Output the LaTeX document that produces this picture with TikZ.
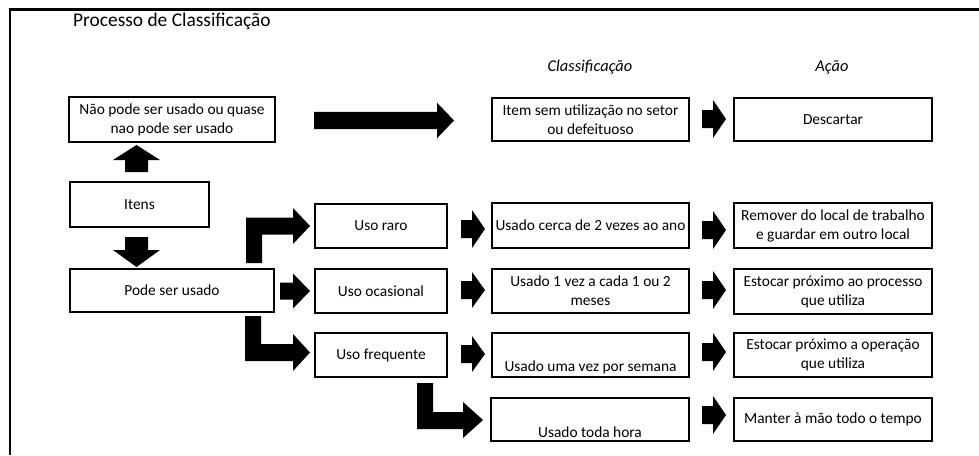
\documentclass[tikz,border=0pt]{standalone}
\usepackage{fontspec}
\setmainfont{Carlito}
\newcommand\bodyf{\fontsize{15.4pt}{19pt}\selectfont}
\newcommand\rarr[6]{% x0, xh, xt, yc, shaft half, head half
  \fill[black] (#1,{#4-#5}) -- (#2,{#4-#5}) -- (#2,{#4-#6}) -- (#3,#4) -- (#2,{#4+#6}) -- (#2,{#4+#5}) -- (#1,{#4+#5}) -- cycle;}
\begin{document}
\begin{tikzpicture}[x=1pt,y=-1pt,
  box/.style={draw=black, line width=1.8pt, fill=white, inner sep=0pt, align=center, font=\bodyf, text=black},
  lbl/.style={inner sep=0pt, font=\bodyf, text=black, align=center}]
\useasboundingbox (0,0) rectangle (979,455);
\fill[white] (0,0) rectangle (979,455);
% frame
\draw[line width=2.2pt] (10,455) -- (10,9.5) -- (979,9.5);
% title and headers
\node[lbl, anchor=west, font=\fontsize{19.4pt}{22pt}\selectfont] (title) at (73,21) {Processo de Classificação};
\node[lbl, font=\fontsize{16.4pt}{19pt}\selectfont\itshape] (hclass) at (590,67) {Classificação};
\node[lbl, font=\fontsize{16.4pt}{19pt}\selectfont\itshape] (hacao) at (832,67) {Ação};
% left column
\node[box, minimum width=206pt, minimum height=45pt] (nao) at (172,119.5) {Não pode ser usado ou quase\\nao pode ser usado};
\node[box, minimum width=139pt, minimum height=45pt] (itens) at (139.5,204.5) {Itens};
\node[box, minimum width=204pt, minimum height=43pt] (pode) at (172,290.5) {Pode ser usado};
% second column
\node[box, minimum width=132pt, minimum height=44pt] (raro) at (381,226) {Uso raro};
\node[box, minimum width=132pt, minimum height=44pt] (ocas) at (381,291) {Uso ocasional};
\node[box, minimum width=132pt, minimum height=44pt] (freq) at (381,355) {Uso frequente};
% classification column
\node[box, minimum width=197pt, minimum height=43pt] (semuso) at (590.5,119.5) {Item sem utilização no setor\\ou defeituoso};
\node[box, minimum width=197pt, minimum height=45pt] (cerca) at (590.5,225.5) {Usado cerca de 2 vezes ao ano};
\node[box, minimum width=197pt, minimum height=44pt] (cada) at (590.5,291) {Usado 1 vez a cada 1 ou 2\\meses};
\node[box, minimum width=197pt, minimum height=44pt] (semana) at (590.5,355) {};
\node[lbl] (semanat) at (590.5,367) {Usado uma vez por semana};
\node[box, minimum width=198pt, minimum height=43pt] (hora) at (590,419.5) {};
\node[lbl] (horat) at (590,432) {Usado toda hora};
% action column
\node[box, minimum width=198pt, minimum height=43pt] (descartar) at (833,119.5) {Descartar};
\node[box, minimum width=198pt, minimum height=45pt] (remover) at (833,225.5) {Remover do local de trabalho\\e guardar em outro local};
\node[box, minimum width=198pt, minimum height=45pt] (est1) at (833,291.5) {Estocar próximo ao processo\\que utiliza};
\node[box, minimum width=198pt, minimum height=44pt] (est2) at (833,355) {Estocar próximo a operação\\que utiliza};
\node[box, minimum width=198pt, minimum height=43pt] (manter) at (833,419.5) {Manter à mão todo o tempo};
% big arrow to classification
\rarr{314}{437}{454}{120.5}{8.7}{17.8}
% up arrow
\fill[black] (125,172) -- (125,160) -- (113,160) -- (136.5,145) -- (160,160) -- (148,160) -- (148,172) -- cycle;
% down arrow
\fill[black] (125,237) -- (125,250) -- (113,250) -- (136.5,267) -- (160,250) -- (148,250) -- (148,237) -- cycle;
% upper elbow
\fill[black] (246,263) -- (246,217.5) -- (293,217.5) -- (293,208) -- (310,226) -- (293,244) -- (293,234.5) -- (262,234.5) -- (262,263) -- cycle;
% middle arrow
\rarr{280}{293}{310}{291}{8.5}{17.5}
% lower elbow
\fill[black] (245,316) -- (245,361) -- (293,361) -- (293,371) -- (310,352.5) -- (293,334) -- (293,344) -- (261,344) -- (261,316) -- cycle;
% lower right elbow
\fill[black] (417,383) -- (417,429) -- (463,429) -- (463,438) -- (483,420) -- (463,402) -- (463,412) -- (433,412) -- (433,383) -- cycle;
% small arrows column 3
\rarr{461}{472}{485}{229}{9}{19}
\rarr{461}{472}{485}{290}{9}{18}
\rarr{461}{472}{485}{354}{9}{18}
% small arrows column 5
\rarr{702}{713}{726}{119}{9}{19}
\rarr{702}{713}{726}{230}{9}{19}
\rarr{702}{713}{726}{290}{9}{19}
\rarr{702}{713}{726}{352}{9}{19}
\rarr{702}{713}{726}{415}{9}{19}
\end{tikzpicture}
\end{document}
